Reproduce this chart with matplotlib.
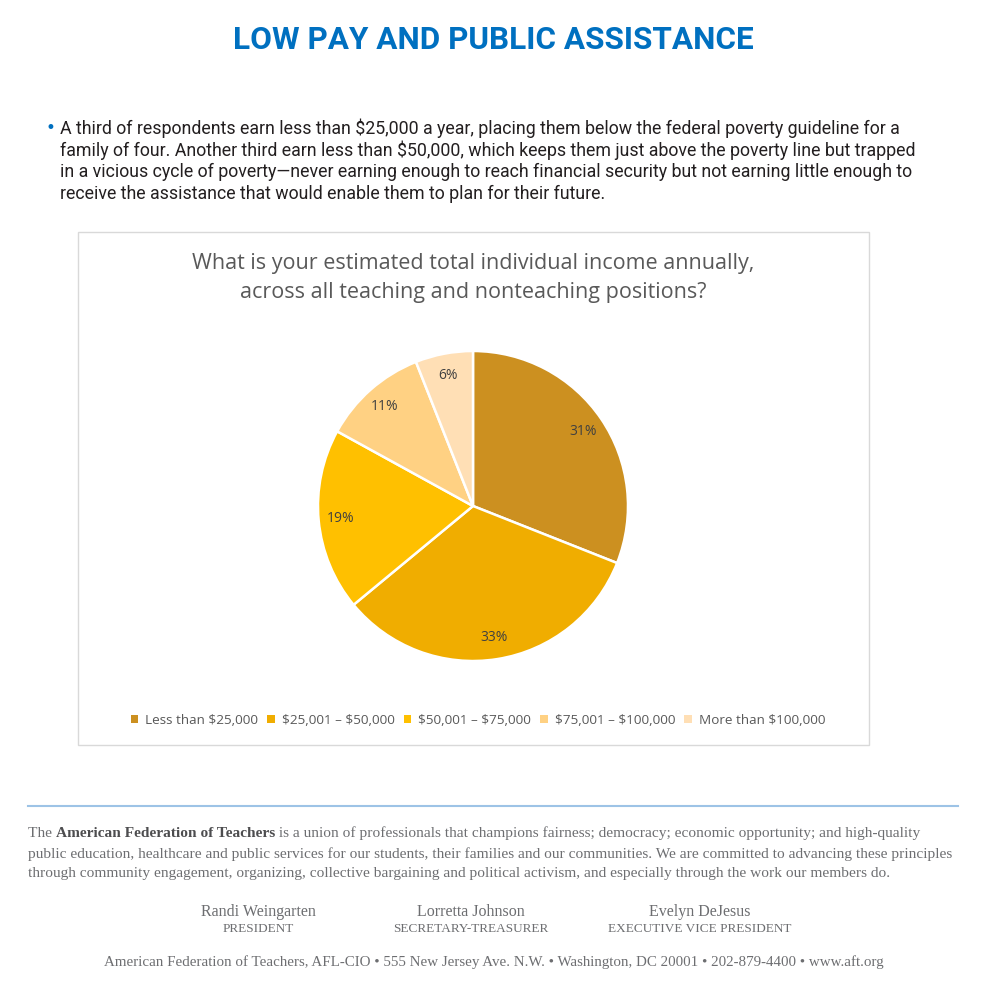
import matplotlib.pyplot as plt
from matplotlib.patches import Patch, Rectangle
from matplotlib.lines import Line2D

# data
categories = [r"Less than \$25,000", "\\$25,001 \u2013 \\$50,000", "\\$50,001 \u2013 \\$75,000",
              "\\$75,001 \u2013 \\$100,000", r"More than \$100,000"]
shares = [31, 33, 19, 11, 6]
colors = ["#CC9020", "#F0AD00", "#FFC000", "#FFD183", "#FFDFB5"]

title = "LOW PAY AND PUBLIC ASSISTANCE"
bullet_lines = [
    "A third of respondents earn less than \\$25,000 a year, placing them below the federal poverty guideline for a",
    "family of four. Another third earn less than \\$50,000, which keeps them just above the poverty line but trapped",
    "in a vicious cycle of poverty\u2014never earning enough to reach financial security but not earning little enough to",
    "receive the assistance that would enable them to plan for their future.",
]
chart_title = "What is your estimated total individual income annually,\nacross all teaching and nonteaching positions?"

W = H = 988
fig = plt.figure(figsize=(9.88, 9.88), dpi=100)
fig.patch.set_facecolor("white")


def fx(px):
    return px / W


def fy(py):
    return 1 - py / H


sans = ["Roboto", "DejaVu Sans"]
serif = ["Liberation Serif", "DejaVu Serif"]
office = ["Open Sans", "DejaVu Sans"]

fig.text(fx(493), fy(40), title, ha="center", va="center", fontsize=22.7,
         fontweight="bold", color="#0070C0", family=sans)

fig.text(fx(50), fy(128), "\u2022", ha="center", va="center", fontsize=12,
         color="#0070C0")
for i, line in enumerate(bullet_lines):
    fig.text(fx(60), fy(128 + 22 * i), line, ha="left", va="center",
             fontsize=12.8, color="#231F20", family=sans)

# chart box
fig.add_artist(Rectangle((fx(78), fy(745)), fx(869 - 78), (745 - 232) / H,
                         transform=fig.transFigure, fill=False,
                         edgecolor="#D9D9D9", linewidth=1))
fig.text(fx(473), fy(278), chart_title, ha="center", va="center",
         fontsize=15.5, color="#595959", family=office, linespacing=1.5)

# pie
cx, cy, r = 473, 506, 155
ax = fig.add_axes([fx(cx - r), fy(cy + r), 2 * r / W, 2 * r / H])
wedges, texts, autotexts = ax.pie(
    shares, colors=colors, startangle=90, counterclock=False,
    autopct="%d%%", pctdistance=0.86,
    wedgeprops=dict(edgecolor="white", linewidth=1.8),
    textprops=dict(fontsize=10, color="#404040", family=office))
ax.set_xlim(-1.0, 1.0)
ax.set_ylim(-1.0, 1.0)
ax.set_aspect("equal")
ax.axis("off")

handles = [Patch(facecolor=c, edgecolor="none") for c in colors]
fig.legend(handles, categories, loc="center", bbox_to_anchor=(fx(478), fy(720)),
           ncol=5, frameon=False, handlelength=0.55, handleheight=0.55,
           handletextpad=0.5, columnspacing=0.7,
           prop=dict(size=9.7, family=office), labelcolor="#595959")

# footer
fig.add_artist(Line2D([fx(28), fx(958)], [fy(806), fy(806)],
                      transform=fig.transFigure, color="#9DC3E6", linewidth=1.5))

grey = "#6D6E71"
fsize = 11.1
fig.canvas.draw()
renderer = fig.canvas.get_renderer()
x0 = fx(28)
parts = [("The ", "normal"), ("American Federation of Teachers", "bold"),
         (" is a union of professionals that champions fairness; democracy; economic opportunity; and high-quality", "normal")]
for txt, wt in parts:
    t = fig.text(x0, fy(833), txt, ha="left", va="center", fontsize=fsize,
                 color=grey if wt == "normal" else "#4D4D4F", fontweight=wt, family=serif)
    bb = t.get_window_extent(renderer)
    x0 += bb.width / W
footer_lines = [
    "public education, healthcare and public services for our students, their families and our communities. We are committed to advancing these principles",
    "through community engagement, organizing, collective bargaining and political activism, and especially through the work our members do.",
]
for i, line in enumerate(footer_lines):
    fig.text(fx(28), fy(854 + 19 * i), line, ha="left", va="center",
             fontsize=fsize, color=grey, family=serif)

officers = [("Randi Weingarten", "PRESIDENT", 258),
            ("Lorretta Johnson", "SECRETARY-TREASURER", 471),
            ("Evelyn DeJesus", "EXECUTIVE VICE PRESIDENT", 700)]
for name, role, x in officers:
    fig.text(fx(x), fy(912), name, ha="center", va="center", fontsize=11.5,
             color=grey, family=serif)
    fig.text(fx(x), fy(929), role, ha="center", va="center", fontsize=9.5,
             color=grey, family=serif)

fig.text(fx(494), fy(962),
         "American Federation of Teachers, AFL-CIO \u2022 555 New Jersey Ave. N.W. \u2022 "
         "Washington, DC 20001 \u2022 202-879-4400 \u2022 www.aft.org",
         ha="center", va="center", fontsize=10.8, color=grey, family=serif)

fig.savefig("out.png", dpi=100, facecolor="white")
